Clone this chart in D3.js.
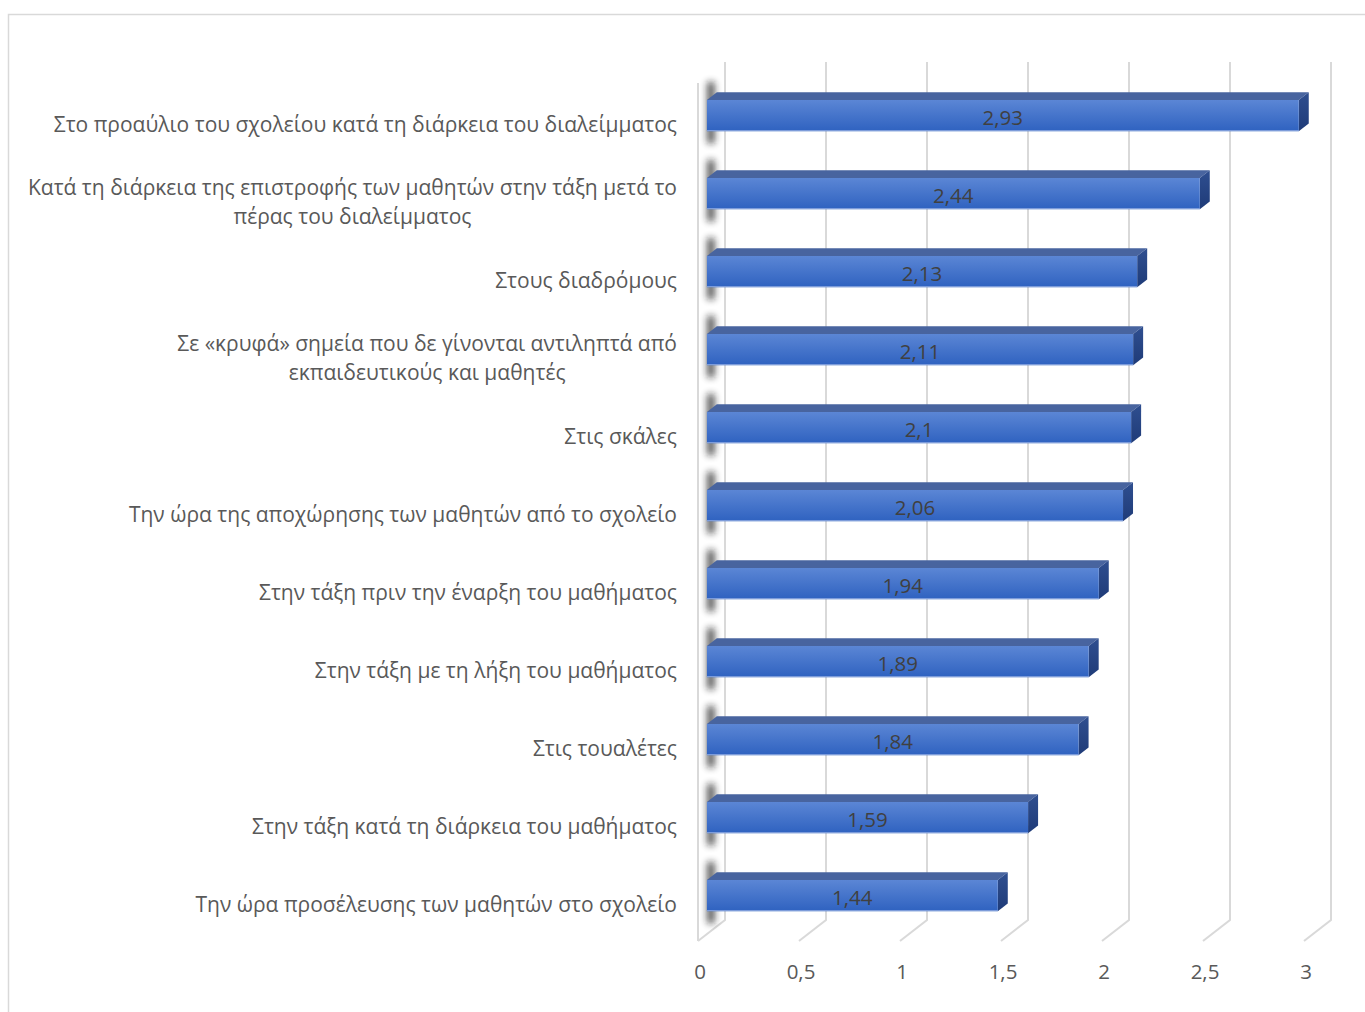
<!DOCTYPE html>
<html>
<head>
<meta charset="utf-8">
<script src="https://cdn.jsdelivr.net/npm/d3@7"></script>
<style>
  html, body { margin: 0; padding: 0; background: #fff; }
  svg { display: block; }
  text { font-family: "Open Sans", "Noto Sans", sans-serif; }
</style>
</head>
<body>
<svg id="chart" width="1365" height="1012"></svg>
<script>
// Categories (each entry is a list of lines for wrapped labels)
const categories = [
  ["Στο προαύλιο του σχολείου κατά τη διάρκεια του διαλείμματος"],
  ["Κατά τη διάρκεια της επιστροφής των μαθητών στην τάξη μετά το", "πέρας του διαλείμματος"],
  ["Στους διαδρόμους"],
  ["Σε «κρυφά» σημεία που δε γίνονται αντιληπτά από", "εκπαιδευτικούς και μαθητές"],
  ["Στις σκάλες"],
  ["Την ώρα της αποχώρησης των μαθητών από το σχολείο"],
  ["Στην τάξη πριν την έναρξη του μαθήματος"],
  ["Στην τάξη με τη λήξη του μαθήματος"],
  ["Στις τουαλέτες"],
  ["Στην τάξη κατά τη διάρκεια του μαθήματος"],
  ["Την ώρα προσέλευσης των μαθητών στο σχολείο"]
];
const values = [2.93, 2.44, 2.13, 2.11, 2.1, 2.06, 1.94, 1.89, 1.84, 1.59, 1.44];
const ticks = [0, 0.5, 1, 1.5, 2, 2.5, 3];
const tickLabels = ["0", "0,5", "1", "1,5", "2", "2,5", "3"];

const svg = d3.select("#chart");
const fmt = v => String(v).replace(".", ",");

// 3D projection: depth shifts points left and down
const depth = { dx: -27, dy: 21 };
const barFront = 0.67, barBack = 0.30;   // bar depth range as fraction of wall depth

const xBack = d3.scaleLinear().domain([0, 3]).range([725, 1331]);
const xAt = (v, f) => xBack(v) + depth.dx * f;
const yOff = f => depth.dy * f;

const yBand = d3.scaleBand()
  .domain(d3.range(categories.length))
  .range([76.6, 934.6])
  .paddingInner(0.6)
  .paddingOuter(0.3);

const wallTop = 62, wallBottom = 920;

// outer chart border
svg.append("rect")
  .attr("x", 8.5).attr("y", 14.5)
  .attr("width", 1400).attr("height", 1100)
  .attr("fill", "none").attr("stroke", "#d9d9d9").attr("stroke-width", 1.5);

// defs: gradients and blur
const defs = svg.append("defs");
const gFront = defs.append("linearGradient").attr("id", "gFront")
  .attr("x1", 0).attr("y1", 0).attr("x2", 0).attr("y2", 1);
gFront.append("stop").attr("offset", "0%").attr("stop-color", "#5b86d5");
gFront.append("stop").attr("offset", "100%").attr("stop-color", "#2f62c0");
const gSide = defs.append("linearGradient").attr("id", "gSide")
  .attr("x1", 0).attr("y1", 0).attr("x2", 0).attr("y2", 1);
gSide.append("stop").attr("offset", "0%").attr("stop-color", "#2f4f90");
gSide.append("stop").attr("offset", "100%").attr("stop-color", "#1f3b78");
defs.append("filter").attr("id", "blur")
  .attr("filterUnits", "userSpaceOnUse")
  .attr("x", 680).attr("y", 40).attr("width", 60).attr("height", 920)
  .append("feGaussianBlur").attr("stdDeviation", 3.5);

// gridlines: back wall verticals plus floor diagonals
const grid = svg.append("g").attr("stroke", "#d9d9d9").attr("stroke-width", 2).attr("fill", "none");
grid.selectAll("path.g").data(ticks).join("path")
  .attr("d", t => `M${xBack(t)},${wallTop}V${wallBottom}L${xAt(t, 1)},${wallBottom + yOff(1)}`);
// left wall front edge
grid.append("path")
  .attr("d", `M${xAt(0, 1)},${wallTop + yOff(1)}V${wallBottom + yOff(1)}`);

// axis tick labels
svg.append("g").selectAll("text").data(ticks).join("text")
  .attr("x", t => xAt(t, 1) + 2)
  .attr("y", wallBottom + yOff(1) + 30)
  .attr("text-anchor", "middle")
  .attr("dominant-baseline", "central")
  .attr("font-size", 20.5)
  .attr("fill", "#595959")
  .text((t, i) => tickLabels[i]);

// bars
const bars = svg.append("g").selectAll("g").data(values).join("g");

// soft shadow cast on the left wall
bars.append("rect")
  .attr("x", xAt(0, barFront) + 0.5)
  .attr("y", (d, i) => yBand(i) - 18)
  .attr("width", 7)
  .attr("height", yBand.bandwidth() + 30)
  .attr("fill", "#1a1a1a")
  .attr("opacity", 0.8)
  .attr("filter", "url(#blur)");

// top face
bars.append("path")
  .attr("fill", "#48649f")
  .attr("d", (d, i) => {
    const y0 = yBand(i);
    const sh = depth.dy * (barFront - barBack);
    const xs = depth.dx * (barFront - barBack);
    const x0 = xAt(0, barFront), x1 = xAt(d, barFront);
    return `M${x0},${y0}L${x0 - xs},${y0 - sh}L${x1 - xs},${y0 - sh}L${x1},${y0}Z`;
  });
// right side face
bars.append("path")
  .attr("fill", "url(#gSide)")
  .attr("d", (d, i) => {
    const y0 = yBand(i), y1 = y0 + yBand.bandwidth();
    const sh = depth.dy * (barFront - barBack);
    const xs = depth.dx * (barFront - barBack);
    const x1 = xAt(d, barFront);
    return `M${x1},${y0}L${x1 - xs},${y0 - sh}L${x1 - xs},${y1 - sh}L${x1},${y1}Z`;
  });
// front face
bars.append("rect")
  .attr("x", xAt(0, barFront))
  .attr("y", (d, i) => yBand(i))
  .attr("width", d => xAt(d, barFront) - xAt(0, barFront))
  .attr("height", yBand.bandwidth())
  .attr("fill", "url(#gFront)");
bars.append("line")
  .attr("x1", xAt(0, barFront))
  .attr("x2", d => xAt(d, barFront))
  .attr("y1", (d, i) => yBand(i) + yBand.bandwidth() - 0.5)
  .attr("y2", (d, i) => yBand(i) + yBand.bandwidth() - 0.5)
  .attr("stroke", "#8faae0").attr("stroke-width", 1);

// value labels
bars.append("text")
  .attr("x", d => (xAt(0, barFront) + xAt(d, barFront)) / 2)
  .attr("y", (d, i) => yBand(i) + yBand.bandwidth() / 2 + 1)
  .attr("text-anchor", "middle")
  .attr("dominant-baseline", "central")
  .attr("font-size", 20.5)
  .attr("fill", "#404040")
  .text(d => fmt(d));

// category labels (right edge at 677, wrapped lines centred on the widest line)
const labelRight = 677, lineH = 29;
const catG = svg.append("g").attr("font-size", 21).attr("fill", "#595959");
categories.forEach((lines, i) => {
  const cy = yBand(i) + yBand.bandwidth() / 2 + 8;
  const g = catG.append("g");
  const texts = lines.map((ln, k) => g.append("text")
    .attr("y", cy + (k - (lines.length - 1) / 2) * lineH)
    .attr("dominant-baseline", "central")
    .attr("text-anchor", "middle")
    .text(ln));
  const w = d3.max(texts, t => t.node().getComputedTextLength());
  texts.forEach(t => t.attr("x", labelRight - w / 2));
});
</script>
</body>
</html>
